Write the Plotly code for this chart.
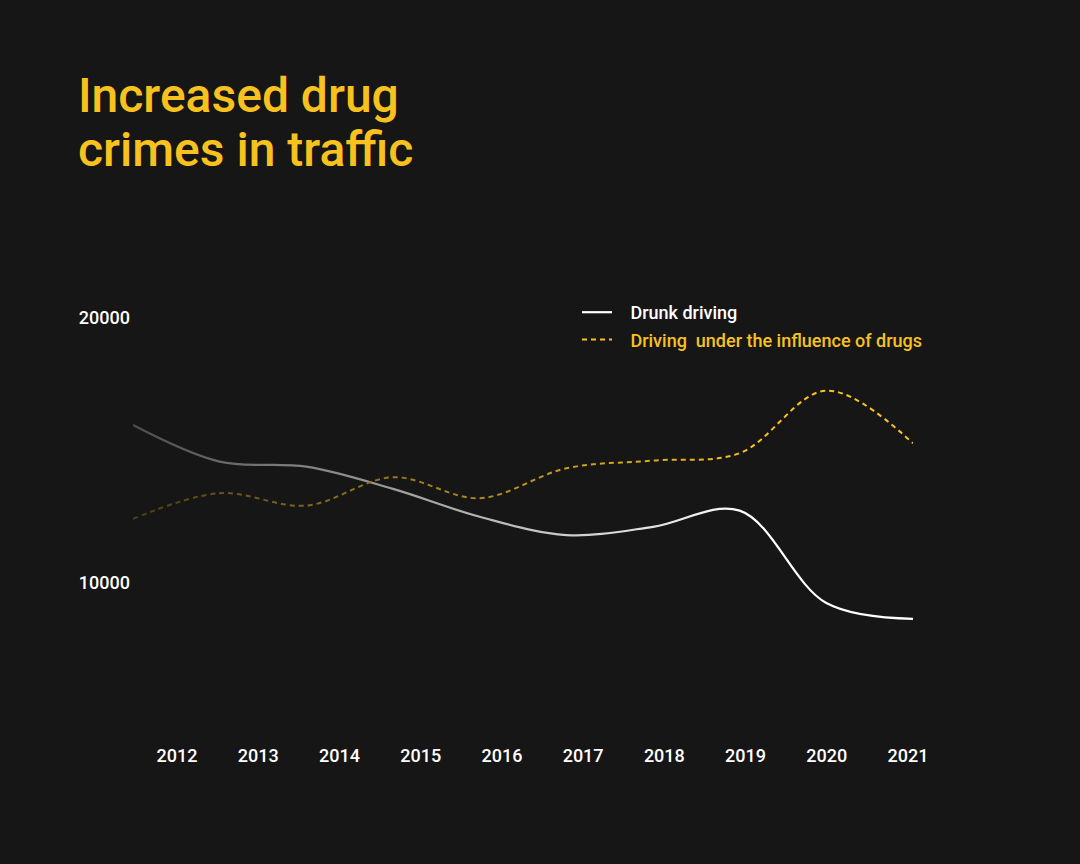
import base64
import plotly.graph_objects as go

# ---- data ----
years = [2012, 2013, 2014, 2015, 2016, 2017, 2018, 2019, 2020, 2021]
drunk_driving = [15960, 14580, 14390, 13550, 12500, 11810, 12120, 12730, 9245, 8650]
drug_driving = [12420, 13390, 12920, 13990, 13200, 14330, 14620, 14900, 17260, 15270]
y_ticks = [10000, 20000]

BG = "#161616"
YELLOW = "#F8C21E"
WHITE = "#FFFFFF"
FONT = "Roboto"

idx = list(range(len(years)))

fig = go.Figure()
fig.add_trace(go.Scatter(
    x=idx, y=drunk_driving, xaxis="x", yaxis="y", mode="lines",
    name="   Drunk driving",
    line=dict(color=WHITE, width=2.2, shape="spline", smoothing=1.0),
    legendgroup="a", hoverinfo="skip",
))
fig.add_trace(go.Scatter(
    x=idx, y=drug_driving, xaxis="x", yaxis="y", mode="lines",
    name=f'   <span style="color:{YELLOW}">Driving  under the influence of drugs</span>',
    line=dict(color=YELLOW, width=2, dash="5px,4px", shape="spline", smoothing=1.0),
    legendgroup="b", hoverinfo="skip",
))
# invisible trace carrying the year axis
fig.add_trace(go.Scatter(
    x=years, y=[None] * len(years), xaxis="x2", yaxis="y", mode="lines",
    showlegend=False, hoverinfo="skip",
))

# gradient fade overlay (left side darker)
svg = (
    '<svg xmlns="http://www.w3.org/2000/svg" width="200" height="20" viewBox="0 0 200 20" preserveAspectRatio="none">'
    '<defs><linearGradient id="g" x1="0" x2="1" y1="0" y2="0">'
    f'<stop offset="0" stop-color="{BG}" stop-opacity="0.78"/>'
    f'<stop offset="0.45" stop-color="{BG}" stop-opacity="0.4"/>'
    f'<stop offset="1" stop-color="{BG}" stop-opacity="0"/>'
    '</linearGradient></defs>'
    '<rect x="0" y="0" width="200" height="20" fill="url(#g)"/></svg>'
)
src = "data:image/svg+xml;base64," + base64.b64encode(svg.encode()).decode()

# pixel geometry
L, R = 133, 913
T, B = 290, 735
px_per_year = (908 - 177) / 9.0
yr0 = 2012 - (177 - L) / px_per_year
yr1 = yr0 + (R - L) / px_per_year
px_per_val = (583 - 318) / 10000.0
ytop = 10000 + (583 - T) / px_per_val
ybot = 10000 - (B - 583) / px_per_val

fig.update_layout(
    width=1080, height=864,
    paper_bgcolor=BG, plot_bgcolor=BG,
    margin=dict(l=L, r=1080 - R, t=T, b=864 - B, pad=0),
    font=dict(family=FONT, color=WHITE, size=16),
    xaxis=dict(range=[0, 9], showgrid=False, zeroline=False, showticklabels=False,
               showline=False, ticks=""),
    xaxis2=dict(range=[yr0, yr1], overlaying="x", side="bottom", anchor="y",
                tickvals=years, ticktext=[str(y) for y in years],
                showgrid=False, zeroline=False, showline=False, ticks="",
                tickfont=dict(family=FONT, size=18, color=WHITE, weight=500),
                ticklabelstandoff=8),
    yaxis=dict(range=[ybot, ytop], tickvals=y_ticks, ticktext=[str(v) for v in y_ticks],
               showgrid=False, zeroline=False, showline=False, ticks="",
               tickfont=dict(family=FONT, size=18, color=WHITE, weight=500),
               ticklabelstandoff=2),
    legend=dict(x=(577 - L) / (R - L), y=(B - 294) / (B - T), xanchor="left", yanchor="top",
                bgcolor="rgba(0,0,0,0)", font=dict(family=FONT, size=18, color=WHITE, weight=500),
                itemwidth=30, tracegroupgap=1, traceorder="grouped"),
    images=[dict(source=src, xref="x", yref="y", x=-0.1, y=17500,
                 sizex=7.3, sizey=10000, xanchor="left", yanchor="top",
                 sizing="stretch", layer="above")],
    annotations=[
        dict(text="Increased drug", xref="paper", yref="paper", showarrow=False,
             x=(76 - L) / (R - L), y=(B - 95) / (B - T), xanchor="left", yanchor="middle",
             font=dict(family=FONT, size=48, color=YELLOW, weight=500)),
        dict(text="crimes in traffic", xref="paper", yref="paper", showarrow=False,
             x=(76 - L) / (R - L), y=(B - 150) / (B - T), xanchor="left", yanchor="middle",
             font=dict(family=FONT, size=48, color=YELLOW, weight=500)),
    ],
    hovermode=False,
)

fig.write_html(
    "out.html",
    config={"displayModeBar": False},
    post_script="document.body.style.margin='0';document.body.style.background='#161616';",
)
